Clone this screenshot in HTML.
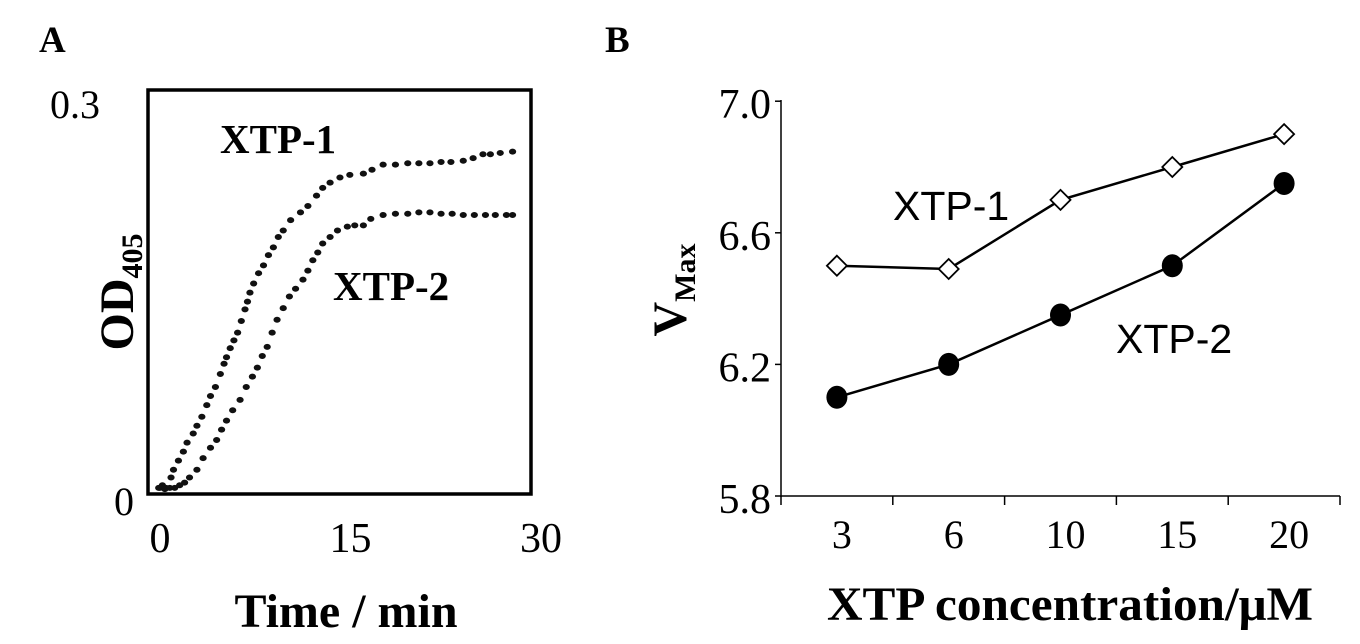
<!DOCTYPE html>
<html><head><meta charset="utf-8"><style>
html,body{margin:0;padding:0;background:#fff;}
svg{display:block;}
.serif{font-family:"Liberation Serif",serif;}
.sans{font-family:"Liberation Sans",sans-serif;}
</style></head><body>
<svg id="fig" width="1360" height="644" viewBox="0 0 1360 644" xmlns="http://www.w3.org/2000/svg">
<text x="39" y="52" class="serif" font-size="37" font-weight="bold">A</text>
<text x="605" y="52" class="serif" font-size="37" font-weight="bold">B</text>
<g id="panelA"></g>
<g id="panelB"></g>
</svg>
<script>
// Panel A data
const aTimes1 = [0.3,0.6,0.9,1.3,1.5,1.9,2.3,2.6,3.1,3.4,3.8,4.2,4.5,4.9,5.3,5.6,5.8,6.1,6.4,6.7,7.0,7.3,7.5,7.7,8.0,8.4,8.8,9.2,9.6,10.0,10.4,11.0,11.8,12.4,13.1,13.6,14.2,15.0,15.8,16.9,17.6,18.5,19.5,20.5,21.4,22.3,23.2,24.0,25.0,25.8,26.6,27.2,28.0,29.0];
const aOD1 =   [0.004,0.006,0.004,0.012,0.018,0.025,0.032,0.039,0.046,0.052,0.059,0.068,0.075,0.082,0.092,0.100,0.105,0.112,0.118,0.124,0.133,0.142,0.148,0.155,0.162,0.170,0.176,0.184,0.190,0.198,0.203,0.211,0.217,0.222,0.230,0.236,0.240,0.244,0.246,0.247,0.250,0.254,0.254,0.255,0.255,0.255,0.256,0.256,0.257,0.259,0.262,0.262,0.263,0.264];
const aTimes2 = [0.4,0.8,1.2,1.6,2.0,2.4,2.8,3.4,3.9,4.5,5.0,5.4,5.8,6.3,6.9,7.4,7.9,8.3,8.7,9.1,9.5,9.9,10.4,10.9,11.4,12.0,12.4,12.8,13.2,13.6,14.2,14.8,15.6,16.2,16.9,17.5,18.5,19.5,20.5,21.4,22.3,23.2,24.1,25.0,25.9,26.8,27.6,28.5,29.0];
const aOD2 =   [0.004,0.003,0.004,0.004,0.006,0.008,0.012,0.018,0.027,0.035,0.041,0.049,0.056,0.064,0.072,0.082,0.090,0.097,0.106,0.113,0.124,0.134,0.143,0.152,0.158,0.165,0.172,0.180,0.186,0.193,0.198,0.203,0.206,0.207,0.207,0.212,0.215,0.216,0.216,0.217,0.217,0.216,0.216,0.215,0.215,0.215,0.215,0.215,0.215];
const aXTicks = [0,15,30];
// Panel B data
const bCategories = ["3","6","10","15","20"];
const bXTP1 = [6.50,6.49,6.70,6.80,6.90];
const bXTP2 = [6.10,6.20,6.35,6.50,6.75];
const bYTicks = [5.8,6.2,6.6,7.0];

const NS="http://www.w3.org/2000/svg";
function mk(tag,attrs,parent,txt){const e=document.createElementNS(NS,tag);for(const k in attrs)e.setAttribute(k,attrs[k]);if(txt!==undefined)e.textContent=txt;parent.appendChild(e);return e;}

// ----- Panel A -----
const gA=document.getElementById('panelA');
const ax=t=>155+t*12.33;
const ay=v=>493-v*1293;
const axLabel=t=>160+t*12.7;
let box=mk('rect',{x:148,y:90,width:383,height:404,fill:'none',stroke:'#000','stroke-width':3.5},gA);


aTimes1.forEach((t,i)=>{
  const c=mk('ellipse',{cx:ax(t),cy:ay(aOD1[i]),rx:3.6,ry:3,fill:'#111'},gA);
  
  
});
aTimes2.forEach((t,i)=>{
  const c=mk('ellipse',{cx:ax(t),cy:ay(aOD2[i]),rx:3.6,ry:3,fill:'#111'},gA);
  
  
});
aXTicks.forEach(t=>{
  const e=mk('text',{x:axLabel(t),y:552,'text-anchor':'middle','font-size':42,class:'serif'},gA,String(t));
  
  
});
let y03=mk('text',{x:50,y:118,'font-size':40,class:'serif'},gA,'0.3');

let y0=mk('text',{x:114,y:515,'font-size':40,class:'serif'},gA,'0');

let t1=mk('text',{x:220,y:153,'font-size':41,'font-weight':'bold',class:'serif'},gA,'XTP-1');

let t2=mk('text',{x:333,y:300,'font-size':41,'font-weight':'bold',class:'serif'},gA,'XTP-2');

let xtA=mk('text',{x:346,y:627,'text-anchor':'middle','font-size':48,'font-weight':'bold',class:'serif'},gA,'Time / min');

let ytA=mk('text',{transform:'translate(133,292) rotate(-90)','text-anchor':'middle','font-size':48,'font-weight':'bold',class:'serif'},gA);

mk('tspan',{},ytA,'OD');mk('tspan',{'font-size':30,dy:9},ytA,'405');

// ----- Panel B -----
const gB=document.getElementById('panelB');
const x0=781, step=111.8;
const bx=i=>x0+step/2+i*step;
const by=v=>496-(v-5.8)*329;
let yax=mk('line',{x1:x0,y1:100,x2:x0,y2:497,stroke:'#000','stroke-width':1.5},gB);

let xax=mk('line',{x1:x0,y1:496,x2:x0+step*bCategories.length,y2:496,stroke:'#000','stroke-width':1.5},gB);

for(let i=0;i<=bCategories.length;i++){
  const x=x0+i*step;
  const tk=mk('line',{x1:x,y1:496,x2:x,y2:505,stroke:'#000','stroke-width':1.5},gB);
  
}
bYTicks.forEach(v=>{
  const tk=mk('line',{x1:775,y1:by(v),x2:x0,y2:by(v),stroke:'#000','stroke-width':1.5},gB);
  
  const e=mk('text',{x:771,y:by(v)+17,'text-anchor':'end','font-size':42,class:'serif'},gB,v.toFixed(1));
  
  
});
bCategories.forEach((c,i)=>{
  const e=mk('text',{x:bx(i)+5,y:548,'text-anchor':'middle','font-size':40,class:'serif'},gB,c);
  
  
});
let l1=mk('polyline',{points:bXTP1.map((v,i)=>bx(i)+','+by(v)).join(' '),fill:'none',stroke:'#000','stroke-width':2.5},gB);

let l2=mk('polyline',{points:bXTP2.map((v,i)=>bx(i)+','+by(v)).join(' '),fill:'none',stroke:'#000','stroke-width':2.5},gB);

bXTP1.forEach((v,i)=>{
  const x=bx(i),y=by(v),s=10;
  const d=mk('polygon',{points:`${x},${y-s} ${x+s},${y} ${x},${y+s} ${x-s},${y}`,fill:'#fff',stroke:'#000','stroke-width':1.8},gB);
  
  
});
bXTP2.forEach((v,i)=>{
  const c=mk('ellipse',{cx:bx(i),cy:by(v),rx:10.5,ry:11.5,fill:'#000'},gB);
  
  
});
let b1=mk('text',{x:893,y:220,'font-size':41,class:'sans'},gB,'XTP-1');

let b2=mk('text',{x:1116,y:353,'font-size':41,class:'sans'},gB,'XTP-2');

let xtB=mk('text',{x:827,y:620,'font-size':48,'font-weight':'bold',class:'serif',textLength:486,lengthAdjust:'spacingAndGlyphs'},gB,'XTP concentration/\u03BCM');

let ytB=mk('text',{transform:'translate(686,290) rotate(-90)','text-anchor':'middle','font-size':48,'font-weight':'bold',class:'serif'},gB);

mk('tspan',{},ytB,'V');mk('tspan',{'font-size':30,dy:9},ytB,'Max');
</script>
</body></html>
